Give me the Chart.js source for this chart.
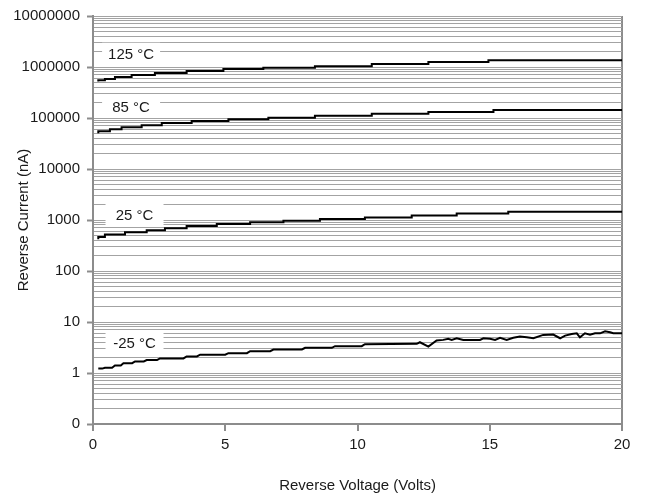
<!DOCTYPE html>
<html>
<head>
<meta charset="utf-8">
<script src="https://cdn.jsdelivr.net/npm/chart.js@4.4.1/dist/chart.umd.min.js"></script>
<style>
  html, body { margin: 0; padding: 0; background: #fff; }
  #wrap { width: 649px; height: 502px; }
</style>
</head>
<body>
<div id="wrap"><canvas id="leakChart"></canvas></div>
<script>
// Reverse current vs reverse voltage
const v125 = [0.2, 0.45, 0.83, 1.46, 2.34, 3.54, 4.93, 6.44, 8.39, 10.54, 12.68, 14.95, 17.53, 20];
const i125 = [518000, 548000, 582000, 637000, 696000, 762000, 833000, 911000, 970000, 1040000, 1140000, 1250000, 1360000, 1360000];

const v85 = [0.2, 0.64, 1.08, 1.84, 2.6, 3.73, 5.12, 6.63, 8.39, 10.54, 12.68, 15.14, 17.66, 20];
const i85 = [50200, 55000, 60100, 65800, 71900, 79800, 87300, 94200, 101200, 110700, 121000, 130600, 142900, 142900];

const v25 = [0.2, 0.45, 1.21, 2.03, 2.72, 3.54, 4.68, 5.94, 7.2, 8.58, 10.28, 12.05, 13.75, 15.7, 17.85, 20];
const i25 = [420, 465, 518, 574, 628, 687, 762, 834, 899, 971, 1042, 1125, 1231, 1346, 1453, 1453];

const vM25 = [0.2, 0.35, 0.45, 0.72, 0.83, 1.05, 1.15, 1.48, 1.59, 1.92, 2.03, 2.42, 2.53, 3.42, 3.54, 3.93,
  4.05, 5.0, 5.12, 5.82, 5.94, 6.7, 6.82, 7.9, 8.02, 9.03, 9.15, 10.16, 10.28,
  12.24, 12.36, 12.68, 12.99, 13.24, 13.43, 13.56, 13.75, 14.0, 14.63, 14.76, 15.01, 15.2, 15.39, 15.64,
  15.89, 16.14, 16.4, 16.65, 17.02, 17.4, 17.66, 17.85, 18.1, 18.29, 18.41, 18.6, 18.79, 18.98, 19.17,
  19.36, 19.55, 19.67, 20];
const iM25 = [1.22, 1.22, 1.27, 1.27, 1.41, 1.41, 1.56, 1.56, 1.69, 1.69, 1.79, 1.79, 1.93, 1.93, 2.11, 2.11,
  2.28, 2.28, 2.45, 2.45, 2.68, 2.68, 2.89, 2.89, 3.12, 3.12, 3.35, 3.35, 3.66,
  3.73, 4.01, 3.30, 4.33, 4.46, 4.67, 4.46, 4.80, 4.46, 4.46, 4.80, 4.67, 4.46, 4.89, 4.46,
  4.89, 5.18, 5.01, 4.80, 5.58, 5.66, 4.80, 5.42, 5.84, 6.00, 5.01, 6.00, 5.66, 6.00, 6.00,
  6.56, 6.28, 6.00, 6.00];

// axis ticks
const xTicks = [0, 5, 10, 15, 20];
const yTickValues = [0.1, 1, 10, 100, 1000, 10000, 100000, 1000000, 10000000];
const yTickLabels = ['0', '1', '10', '100', '1000', '10000', '100000', '1000000', '10000000'];

// curve tags (text + anchor in data units)
const tagText = ['125 °C', '85 °C', '25 °C', '-25 °C'];
const tagVolts = [1.44, 1.44, 1.57, 1.57];
const tagCurrent = [1820000, 168000, 1253, 3.98];

const FONT = '"Liberation Sans", Arial, sans-serif';
const GRID = '#a3a3a3';
const AXIS = '#8c8c8c';

// every 1..9 multiple inside each decade gets a grid line
const yGrid = [];
yTickValues.slice(0, -1).forEach(d => {
  for (let m = 1; m < 10; m++) yGrid.push(d * m);
});
yGrid.push(yTickValues[yTickValues.length - 1]);

const toPoints = (xs, ys) => xs.map((x, k) => ({ x: x, y: ys[k] }));

const curveTags = {
  id: 'curveTags',
  beforeDatasetsDraw(chart) {
    const { ctx, scales: { x, y } } = chart;
    ctx.save();
    ctx.font = '15px ' + FONT;
    ctx.textAlign = 'center';
    ctx.textBaseline = 'middle';
    tagText.forEach((t, i) => {
      const cx = x.getPixelForValue(tagVolts[i]);
      const cy = y.getPixelForValue(tagCurrent[i]);
      ctx.fillStyle = '#fff';
      ctx.fillRect(cx - 29, cy - 11, 58, 22);
      ctx.fillStyle = '#1a1a1a';
      ctx.fillText(t, cx, cy + 1);
    });
    ctx.restore();
  }
};

const line = (label, xs, ys, stepped) => ({
  label: label,
  data: toPoints(xs, ys),
  borderColor: '#000',
  borderWidth: 2,
  pointRadius: 0,
  fill: false,
  stepped: stepped,
  tension: 0
});

new Chart(document.getElementById('leakChart'), {
  type: 'line',
  data: {
    datasets: [
      line('125 °C', v125, i125, 'after'),
      line('85 °C', v85, i85, 'after'),
      line('25 °C', v25, i25, 'after'),
      line('-25 °C', vM25, iM25, false)
    ]
  },
  options: {
    responsive: true,
    maintainAspectRatio: false,
    animation: false,
    layout: { padding: { top: 14, right: 27, left: 0, bottom: 0 } },
    plugins: {
      legend: { display: false },
      tooltip: { enabled: false }
    },
    scales: {
      x: {
        type: 'linear',
        min: 0,
        max: 20,
        afterBuildTicks: (scale) => { scale.ticks = xTicks.map(v => ({ value: v })); },
        afterFit: (scale) => { scale.height = 78; },
        ticks: { color: '#1a1a1a', font: { family: FONT, size: 15 }, padding: 5, maxRotation: 0 },
        grid: {
          color: (c) => (c.tick && c.tick.value === 20 ? AXIS : 'rgba(0,0,0,0)'),
          lineWidth: 2,
          tickColor: AXIS,
          tickLength: 7,
          tickWidth: 2
        },
        border: { color: AXIS, width: 2 },
        title: {
          display: true,
          text: 'Reverse Voltage (Volts)',
          color: '#1a1a1a',
          font: { family: FONT, size: 15 },
          padding: { top: 0, bottom: 7 }
        }
      },
      y: {
        type: 'logarithmic',
        min: 0.1,
        max: 10000000,
        afterBuildTicks: (scale) => { scale.ticks = yGrid.map(v => ({ value: v })); },
        afterFit: (scale) => { scale.width = 93; },
        ticks: {
          autoSkip: false,
          color: '#1a1a1a',
          font: { family: FONT, size: 15 },
          padding: 7,
          callback: (value) => {
            const k = yTickValues.indexOf(value);
            return k >= 0 ? yTickLabels[k] : '';
          }
        },
        grid: {
          color: GRID,
          lineWidth: 1,
          tickLength: 6,
          tickColor: (c) => (c.tick && yTickValues.includes(c.tick.value) ? AXIS : 'rgba(0,0,0,0)'),
          tickWidth: 2
        },
        border: { color: AXIS, width: 2 },
        title: {
          display: true,
          text: 'Reverse Current (nA)',
          color: '#1a1a1a',
          font: { family: FONT, size: 15 },
          padding: { top: 15, bottom: 0 }
        }
      }
    }
  },
  plugins: [curveTags]
});
</script>
</body>
</html>
